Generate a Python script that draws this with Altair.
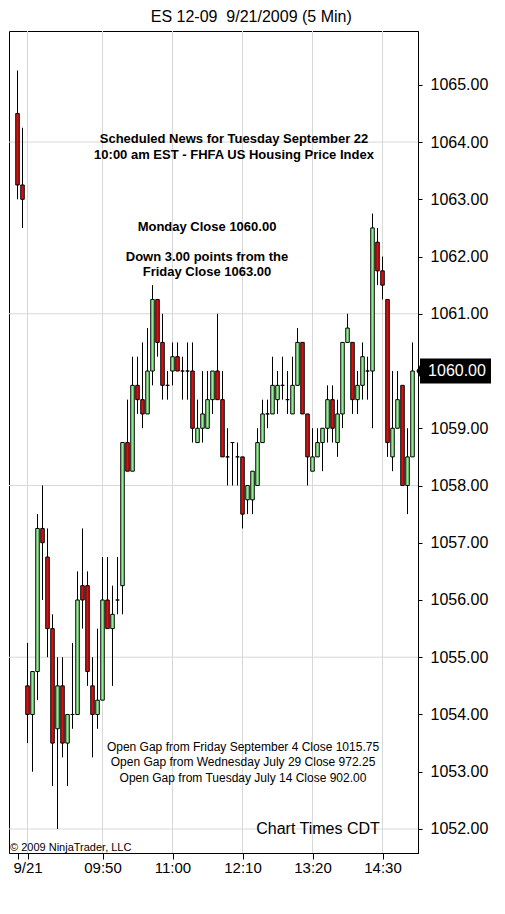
import altair as alt
import pandas as pd

# ---- data ----
bar_index = list(range(-1, 79))
opens = [1064.5, 1063.25,
         1054.5, 1054.0, 1054.75, 1057.25, 1056.75, 1055.5, 1053.75, 1054.5, 1053.5, 1054.0,
         1054.0, 1056.25, 1056.25, 1054.5, 1054.0, 1054.25, 1056.0, 1055.5, 1056.0, 1056.25,
         1058.75, 1058.25, 1059.75, 1059.5, 1059.25, 1060.0, 1061.25, 1060.5, 1059.75, 1060.0,
         1060.25, 1060.0, 1060.0, 1060.0, 1058.75, 1059.0, 1059.0, 1059.5, 1060.0, 1059.5,
         1058.5, 1058.75, 1058.5, 1058.5, 1057.75, 1057.75, 1058.0, 1058.75, 1059.25, 1059.25,
         1059.5, 1059.75, 1059.5, 1059.25, 1059.75, 1060.5, 1059.25, 1058.25, 1058.5, 1058.75,
         1059.0, 1059.5, 1058.75, 1059.25, 1060.5, 1060.5, 1059.5, 1059.75, 1060.0, 1060.0,
         1062.25, 1061.75, 1061.25, 1058.5, 1059.0, 1059.75, 1058.0, 1058.5]
highs = [1065.25, 1064.25,
         1055.25, 1054.75, 1057.5, 1058.0, 1057.25, 1055.75, 1055.0, 1055.0, 1054.0, 1055.25,
         1056.5, 1057.25, 1056.5, 1055.0, 1055.5, 1056.75, 1056.75, 1056.25, 1056.75, 1058.75,
         1059.5, 1060.25, 1060.25, 1060.5, 1060.75, 1061.5, 1061.25, 1061.0, 1060.0, 1060.5,
         1060.5, 1060.25, 1060.5, 1060.5, 1059.5, 1060.0, 1060.0, 1060.0, 1061.0, 1060.0,
         1059.0, 1058.75, 1058.75, 1058.5, 1058.0, 1058.25, 1059.0, 1059.5, 1059.5, 1060.25,
         1060.0, 1060.25, 1060.0, 1060.25, 1060.75, 1060.5, 1059.25, 1059.0, 1059.0, 1059.0,
         1059.75, 1059.75, 1059.5, 1060.5, 1061.0, 1060.5, 1060.0, 1060.5, 1060.25, 1062.75,
         1062.5, 1062.0, 1061.25, 1060.0, 1060.0, 1059.75, 1059.0, 1060.5]
lows = [1063.0, 1062.5,
        1053.5, 1053.0, 1054.25, 1056.0, 1055.0, 1052.75, 1052.0, 1053.25, 1052.75, 1053.75,
        1054.0, 1055.5, 1054.5, 1053.25, 1053.75, 1054.25, 1055.5, 1054.5, 1055.75, 1055.75,
        1058.25, 1058.25, 1059.25, 1059.0, 1059.25, 1059.75, 1060.25, 1059.5, 1059.5, 1059.75,
        1060.0, 1059.5, 1059.5, 1058.75, 1058.75, 1058.75, 1059.0, 1059.25, 1059.5, 1058.5,
        1058.0, 1058.0, 1058.0, 1057.25, 1057.5, 1057.5, 1058.0, 1058.75, 1059.0, 1059.25,
        1059.25, 1059.5, 1059.25, 1059.25, 1059.75, 1059.25, 1058.0, 1058.25, 1058.5, 1058.25,
        1058.75, 1058.75, 1058.5, 1059.0, 1060.5, 1059.25, 1059.25, 1059.5, 1059.5, 1059.0,
        1061.5, 1061.25, 1058.5, 1058.25, 1059.0, 1058.0, 1057.5, 1058.5]
closes = [1063.25, 1063.0,
          1054.0, 1054.75, 1057.25, 1057.0, 1055.5, 1053.5, 1054.5, 1053.5, 1054.0, 1054.0,
          1056.0, 1056.0, 1054.75, 1054.0, 1054.25, 1056.0, 1055.5, 1055.75, 1056.0, 1058.75,
          1058.25, 1059.75, 1059.5, 1059.25, 1060.0, 1061.25, 1060.5, 1059.75, 1059.75, 1060.25,
          1060.0, 1060.0, 1060.0, 1059.0, 1059.0, 1059.25, 1059.5, 1060.0, 1059.5, 1058.5,
          1058.5, 1058.75, 1058.5, 1057.5, 1058.0, 1058.25, 1058.75, 1059.25, 1059.25, 1059.75,
          1059.75, 1059.75, 1059.5, 1059.75, 1060.5, 1059.25, 1058.5, 1058.5, 1058.75, 1059.0,
          1059.5, 1059.0, 1059.25, 1060.5, 1060.75, 1059.5, 1059.75, 1060.25, 1060.0, 1062.5,
          1061.75, 1061.5, 1058.75, 1059.0, 1059.5, 1058.0, 1058.5, 1060.0]

tick_index = [1, 16, 30, 44, 58, 72]
tick_labels = ["9/21", "09:50", "11:00", "12:10", "13:20", "14:30"]
session_break_tick = [-1]
price_ticks = [1052, 1053, 1054, 1055, 1056, 1057, 1058, 1059, 1060, 1061, 1062, 1063, 1064, 1065]
grid_prices = [1052, 1055, 1058, 1061, 1064]

df = pd.DataFrame({"i": bar_index, "open": opens, "high": highs, "low": lows, "close": closes})
df["dir"] = ["up" if c > o else ("down" if c < o else "flat") for o, c in zip(opens, closes)]
last = df.tail(1)
last_close = closes[-1]

FONT = "Liberation Sans"
W, H = 409, 822
xscale = alt.Scale(domain=[-2.7, 79.1], nice=False, zero=False, padding=0)
yscale = alt.Scale(domain=[1051.58, 1065.94], nice=False, zero=False, padding=0)

label_expr = " : ".join(f"datum.value == {i} ? '{t}'" for i, t in zip(tick_index, tick_labels)) + " : ''"
xaxis = alt.Axis(values=session_break_tick + tick_index, labelExpr=label_expr, title=None,
                 grid=False, domainColor="black", tickColor="black", tickSize=6,
                 labelFontSize=15, labelFont=FONT, labelColor="black", labelPadding=1,
                 labelFlush=False, labelOverlap=False)
yaxis = alt.Axis(orient="right", values=price_ticks, title=None, grid=False,
                 labelExpr=f"datum.value == {last_close} ? '' : format(datum.value, '.2f')",
                 domainColor="black", tickColor="black", tickSize=4, labelFontSize=16,
                 labelFont=FONT, labelColor="black", labelPadding=8, labelOverlap=False,
                 labelFlush=False)


def X(f):
    return alt.X(f, type="quantitative", scale=xscale, axis=xaxis)


def Y(f):
    return alt.Y(f, type="quantitative", scale=yscale, axis=yaxis)


grid_color = "#D8D8D8"
hgrid = alt.Chart(pd.DataFrame({"p": grid_prices})).mark_rule(
    color=grid_color, strokeWidth=1).encode(y=Y("p"))
vgrid = alt.Chart(pd.DataFrame({"b": tick_index})).mark_rule(
    color=grid_color, strokeWidth=1).encode(x=X("b"))

wicks = alt.Chart(df).mark_rule(color="black", strokeWidth=1).encode(
    x=X("i"), y=Y("low"), y2="high")
bodies = alt.Chart(df).mark_bar(width=3.5, stroke="black", strokeWidth=1).encode(
    x=X("i"), y=Y("open"), y2="close",
    color=alt.Color("dir:N", scale=alt.Scale(domain=["up", "down", "flat"],
                                             range=["#90EE90", "#DD1010", "black"]),
                    legend=None))


def note(text, px, py, size, weight="normal", lh=None, align="center"):
    kw = dict(align=align, baseline="alphabetic", fontSize=size, font=FONT,
              fontWeight=weight, color="black", lineBreak="\n")
    if lh:
        kw["lineHeight"] = lh
    return alt.Chart(pd.DataFrame({"t": [text]})).mark_text(**kw).encode(
        x=alt.value(px - 8), y=alt.value(py - 30), text="t:N")


notes = [
    note("Scheduled News for Tuesday September 22\n10:00 am EST - FHFA US Housing Price Index",
         233, 141.5, 13, "bold", 16),
    note("Monday Close 1060.00", 206, 229.5, 13, "bold"),
    note("Down 3.00 points from the\nFriday Close 1063.00", 206, 259.5, 13, "bold", 15),
    note("Open Gap from Friday September 4 Close 1015.75\n"
         "Open Gap from Wednesday July 29 Close 972.25\n"
         "Open Gap from Tuesday July 14 Close 902.00", 242, 749.5, 12, "normal", 15.5),
    note("Chart Times CDT", 317, 833, 16),
    note("\u00a9 2009 NinjaTrader, LLC", 9, 850, 11, align="left"),
]

box_path = "M-3.3,0L-3,-0.5L-3,-1L3,-1L3,1L-3,1L-3,0.5Z"
pbox = alt.Chart(last).mark_point(shape=box_path, filled=True, fill="black", stroke="black",
                                  opacity=1, size=529).encode(
    x=alt.value(454.5 - 8), y=Y("close"))
ptext = alt.Chart(last).mark_text(color="white", fontSize=16, font=FONT, align="center",
                                  baseline="middle").encode(
    x=alt.value(456 - 8), y=Y("close"), text=alt.Text("close:Q", format=".2f"))

chart = alt.layer(hgrid, vgrid, wicks, bodies, *notes, pbox, ptext).properties(
    width=W, height=H,
    title=alt.TitleParams("ES 12-09\u00a0 9/21/2009 (5 Min)", fontSize=16, font=FONT,
                          fontWeight="normal", anchor="middle", frame="bounds", offset=6,
                          color="black"),
    padding={"left": 0, "right": 0, "top": 0, "bottom": 0},
    background="white",
).configure_view(stroke="black", strokeWidth=1)

chart.save("out.html", embed_options={"renderer": "svg", "actions": False})
